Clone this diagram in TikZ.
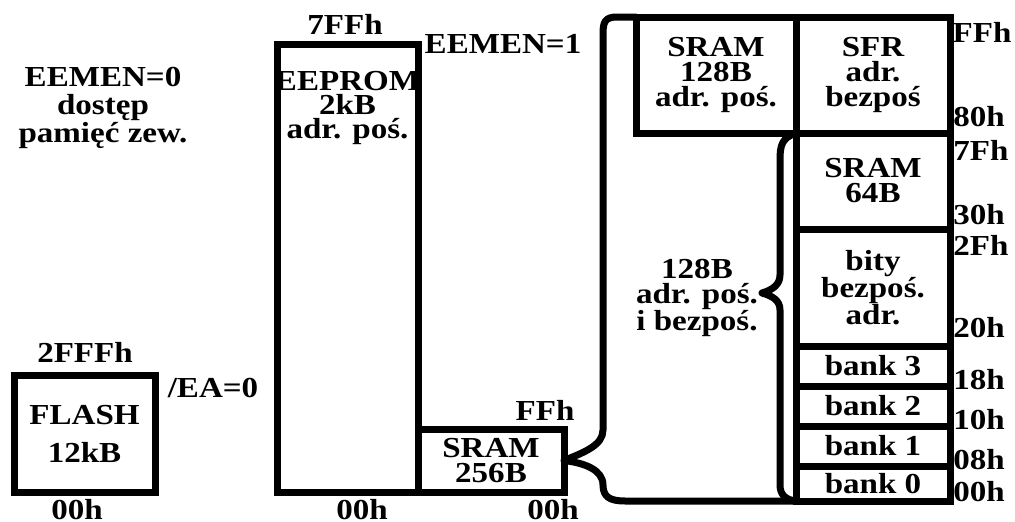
\documentclass[tikz,border=0pt]{standalone}
\usepackage{fontspec}
\setmainfont[FakeStretch=1.14]{Liberation Serif}
\begin{document}
\begin{tikzpicture}[x=1pt,y=-1pt,
  ln/.style={line width=7pt,line cap=round,line join=round},
  box/.style={draw,line width=7pt,inner sep=0pt,outer sep=0pt,align=center,
    font=\fontsize{29}{25}\selectfont\bfseries},
  lbl/.style={inner sep=0pt,align=center,font=\fontsize{29}{25}\selectfont\bfseries}]
\useasboundingbox (0,0) rectangle (1015,522);
% boxes
\node[box,minimum width=141pt,minimum height=117pt,font=\fontsize{29}{38}\selectfont\bfseries] (flash) at (84.5,433.5) {FLASH\\12kB};
\node[box,minimum width=141pt,minimum height=448pt] (eeprom) at (347.5,268) {};
\node[lbl,anchor=north,font=\fontsize{29}{24}\selectfont\bfseries] (eetxt) at (347.5,71) {EEPROM\\2kB\\adr. poś.};
\node[box,minimum width=146pt,minimum height=63pt] (sram) at (491,460.5) {SRAM\\256B};
\node[box,minimum width=160pt,minimum height=116pt] (sramh) at (716,75) {SRAM\\128B\\adr. poś.};
\node[box,minimum width=154pt,minimum height=116pt] (sfr) at (873,75) {SFR\\adr.\\bezpoś};
\node[box,minimum width=154pt,minimum height=96pt] (s64) at (873,181) {SRAM\\64B};
\node[box,minimum width=154pt,minimum height=117pt] (bity) at (873,287.5) {bity\\bezpoś.\\adr.};
\node[box,minimum width=154pt,minimum height=40pt] (b3) at (873,366) {bank 3};
\node[box,minimum width=154pt,minimum height=40pt] (b2) at (873,406) {bank 2};
\node[box,minimum width=154pt,minimum height=40pt] (b1) at (873,446) {bank 1};
\node[box,minimum width=154pt,minimum height=35pt] (b0) at (873,483.5) {bank 0};
% braces
\coordinate (bt) at (sramh.north west);
\coordinate (bb) at (b0.south west);
\draw[ln] (bt) -- (617,17) .. controls (605,17) and (603,22) .. (603,34) -- (603,430)
  .. controls (603,445) and (585,452) .. (sram.east)
  .. controls (585,463) and (603,470) .. (603,485)
  .. controls (603,497) and (610,501) .. (625,501) -- (bb);
\draw[ln] (sramh.south east) .. controls (782,138) and (780,145) .. (780,160) -- (780,275)
  .. controls (780,285) and (772,290) .. (762,293)
  .. controls (772,296) and (780,300) .. (780,310) -- (780,485)
  .. controls (780,495) and (786,500) .. (bb);
\node[lbl] (mid) at (697,298) {128B\\adr. poś.\\i bezpoś.};
% labels
\node[lbl] (l7ff) at (345,24) {7FFh};
\node[lbl] (leem1) at (503,44) {EEMEN=1};
\node[lbl,font=\fontsize{29}{28}\selectfont\bfseries] (leem0) at (103,108) {EEMEN=0\\dostęp\\pamięć zew.};
\node[lbl] (l2fff) at (85,352) {2FFFh};
\node[lbl] (lea) at (213,388) {/EA=0};
\node[lbl] (l00a) at (77,510) {00h};
\node[lbl] (l00b) at (362,510) {00h};
\node[lbl] (l00c) at (553,510) {00h};
\node[lbl] (lffs) at (545,410) {FFh};
\node[lbl] (rff) at (982,32) {FFh};
\node[lbl] (r80) at (979,117) {80h};
\node[lbl] (r7f) at (981,150) {7Fh};
\node[lbl] (r30) at (979,215) {30h};
\node[lbl] (r2f) at (981,245) {2Fh};
\node[lbl] (r20) at (979,328) {20h};
\node[lbl] (r18) at (979,380) {18h};
\node[lbl] (r10) at (979,420) {10h};
\node[lbl] (r08) at (979,460) {08h};
\node[lbl] (r00) at (979,492) {00h};
\end{tikzpicture}
\end{document}
